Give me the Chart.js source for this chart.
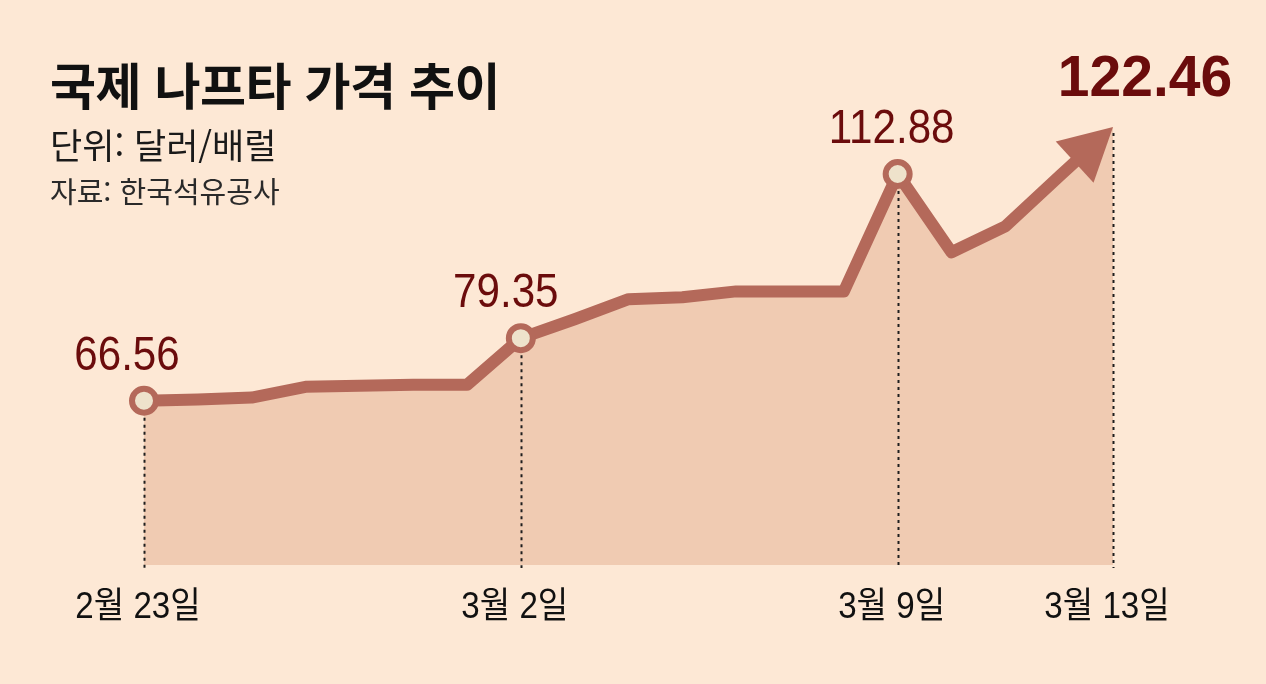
<!DOCTYPE html>
<html lang="ko">
<head>
<meta charset="utf-8">
<script src="https://cdn.jsdelivr.net/npm/chart.js@4.4.1/dist/chart.umd.min.js"></script>
<style>
  html, body { margin: 0; padding: 0; background: #fde8d5; }
  #wrap { position: relative; width: 1266px; height: 684px; overflow: hidden; }
  canvas { position: absolute; left: 0; top: 0; }
  .txt { position: absolute; left: 50px; font-family: "Noto Sans CJK KR", sans-serif; white-space: nowrap; line-height: 1; }
  #title { top: 58px; font-size: 50px; font-weight: 700; color: #111; letter-spacing: -0.5px; }
  #unit { top: 126px; font-size: 35px; color: #1a1a1a; }
  #source { top: 176px; font-size: 29px; color: #2a2a2a; }
</style>
</head>
<body>
<div id="wrap">
  <canvas id="naphthaChart" width="1266" height="684"></canvas>
  <div class="txt" id="title">국제 나프타 가격 추이</div>
  <div class="txt" id="unit">단위: 달러/배럴</div>
  <div class="txt" id="source">자료: 한국석유공사</div>
</div>
<script>
// day index from 2/23 (0) to 3/13 (18)
const days = [0, 1, 2, 3, 4, 5, 6, 7, 8, 9, 10, 11, 12, 13, 14, 15, 16, 17, 18];
const prices = [66.56, 66.8, 67.2, 69.4, 69.6, 69.8, 69.8, 79.35, 83.2, 87.3, 87.7, 88.9, 88.9, 88.9, 112.88, 96.9, 102.2, 112.4, 122.46];

const tickDays = [0, 7, 14, 18];
const tickLabels = ["2월 23일", "3월 2일", "3월 9일", "3월 13일"];
const markedDays = [0, 7, 14];
const labelDays = [0, 7, 14, 18];
const labelTexts = ["66.56", "79.35", "112.88", "122.46"];

const LINE = "#b4695a";
const FILL = "#f0cbb2";
const DARK = "#6b0c0c";

const points = days.map((d, i) => ({ x: d, y: prices[i] }));

function arrowGeom(meta) {
  const pts = meta.data;
  const a = pts[pts.length - 2], b = pts[pts.length - 1];
  const dx = b.x - a.x, dy = b.y - a.y;
  const len = Math.hypot(dx, dy);
  return { tip: { x: b.x, y: b.y }, dir: { x: dx / len, y: dy / len } };
}

// narrow text: squeeze horizontally around the anchor
function narrowText(ctx, text, x, y, sx) {
  ctx.save();
  ctx.translate(x, y);
  ctx.scale(sx, 1);
  ctx.fillText(text, 0, 0);
  ctx.restore();
}

const arrowPlugin = {
  id: "arrowAndLabels",
  beforeDatasetDraw(chart, args) {
    if (args.index !== 0) return;
    const { tip, dir } = arrowGeom(chart.getDatasetMeta(0));
    const ctx = chart.ctx;
    const c = { x: tip.x - dir.x * 30, y: tip.y - dir.y * 30 };
    const n = { x: -dir.y, y: dir.x };
    ctx.save();
    ctx.beginPath();
    ctx.moveTo(c.x + n.x * 3000, c.y + n.y * 3000);
    ctx.lineTo(c.x + n.x * 3000 - dir.x * 4000, c.y + n.y * 3000 - dir.y * 4000);
    ctx.lineTo(c.x - n.x * 3000 - dir.x * 4000, c.y - n.y * 3000 - dir.y * 4000);
    ctx.lineTo(c.x - n.x * 3000, c.y - n.y * 3000);
    ctx.closePath();
    ctx.clip();
  },
  afterDatasetDraw(chart, args) {
    if (args.index !== 0) return;
    chart.ctx.restore();
  },
  afterDatasetsDraw(chart) {
    const ctx = chart.ctx;
    const xs = chart.scales.x, ys = chart.scales.y;
    const bottom = chart.chartArea.bottom;

    // arrow head
    const { tip, dir } = arrowGeom(chart.getDatasetMeta(0));
    const n = { x: -dir.y, y: dir.x };
    const L = 52, W = 28;
    ctx.save();
    ctx.fillStyle = LINE;
    ctx.beginPath();
    ctx.moveTo(tip.x, tip.y);
    ctx.lineTo(tip.x - dir.x * L + n.x * W, tip.y - dir.y * L + n.y * W);
    ctx.lineTo(tip.x - dir.x * L - n.x * W, tip.y - dir.y * L - n.y * W);
    ctx.closePath();
    ctx.fill();

    // dotted guides
    ctx.strokeStyle = "#1e1e1e";
    ctx.lineWidth = 2;
    ctx.setLineDash([3, 4]);
    labelDays.forEach(d => {
      const px = xs.getPixelForValue(d);
      const py = ys.getPixelForValue(prices[days.indexOf(d)]);
      const start = markedDays.includes(d) ? py + 17 : py + 6;
      ctx.beginPath();
      ctx.moveTo(Math.round(px) + 0.5, start);
      ctx.lineTo(Math.round(px) + 0.5, bottom + 3);
      ctx.stroke();
    });
    ctx.setLineDash([]);

    // value labels
    ctx.fillStyle = DARK;
    ctx.textAlign = "center";
    ctx.textBaseline = "alphabetic";
    const offs = [-17, -15, -6, 32];
    labelDays.forEach((d, i) => {
      const px = xs.getPixelForValue(d);
      const py = ys.getPixelForValue(prices[days.indexOf(d)]);
      if (i === labelDays.length - 1) {
        ctx.font = "bold 57px 'Liberation Sans', Arial, sans-serif";
        narrowText(ctx, labelTexts[i], px + offs[i], py - 31, 1.0);
      } else {
        ctx.font = "49px 'Liberation Sans', Arial, sans-serif";
        narrowText(ctx, labelTexts[i], px + offs[i], py - 31, 0.86);
      }
    });

    // date labels
    ctx.fillStyle = "#111";
    ctx.font = "36px 'Liberation Sans', 'Noto Sans CJK KR', sans-serif";
    tickDays.forEach((d, i) => {
      const px = xs.getPixelForValue(d);
      narrowText(ctx, tickLabels[i], px - 6, 618, 0.92);
    });
    ctx.restore();
  }
};

new Chart(document.getElementById("naphthaChart"), {
  type: "line",
  data: {
    datasets: [
      {
        data: points,
        clip: false,
        borderColor: LINE,
        borderWidth: 12,
        borderJoinStyle: "round",
        borderCapStyle: "butt",
        fill: false,
        tension: 0,
        pointRadius: ctx => markedDays.includes(days[ctx.dataIndex]) ? 12 : 0,
        pointBorderWidth: 6,
        pointBorderColor: LINE,
        pointBackgroundColor: "#eee2cb",
        pointHoverRadius: 0
      },
      {
        data: points,
        borderWidth: 0,
        backgroundColor: FILL,
        fill: "start",
        tension: 0,
        pointRadius: 0
      }
    ]
  },
  options: {
    responsive: false,
    animation: false,
    events: [],
    layout: { padding: { left: 144, right: 153, top: 100, bottom: 119 } },
    plugins: { legend: { display: false }, tooltip: { enabled: false } },
    scales: {
      x: { type: "linear", min: 0, max: 18, display: false },
      y: { min: 33, max: 128, display: false }
    }
  },
  plugins: [arrowPlugin]
});
</script>
</body>
</html>
